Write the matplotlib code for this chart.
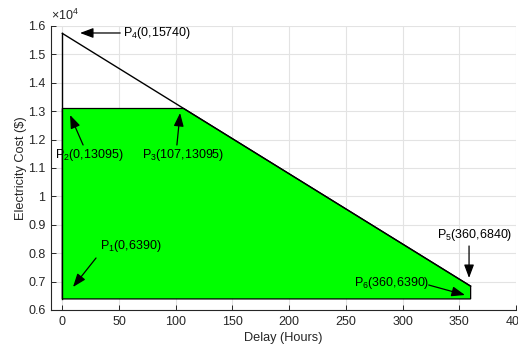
import matplotlib
matplotlib.use('Agg')
import matplotlib.pyplot as plt
from matplotlib.ticker import FuncFormatter

plt.rcParams['font.family'] = ['Liberation Sans', 'DejaVu Sans']
plt.rcParams['mathtext.fontset'] = 'custom'
plt.rcParams['mathtext.rm'] = 'Liberation Sans'
plt.rcParams['mathtext.it'] = 'Liberation Sans'

# corner points of the cost region (delay in hours, cost in $)
names = ['1', '2', '3', '4', '5', '6']
delay = [0, 0, 107, 0, 360, 360]
cost = [6390, 13095, 13095, 15740, 6840, 6390]

# annotation text position, arrow start and arrow tip, per point
text_xy = [(33, 8254), (-6.4, 11458), (70, 11458), (53.5, 15754), (330, 8641), (257, 6951)]
tail_xy = [(29.7, 7831), (18.3, 11810), (101, 11810), (51, 15754), (358.6, 8254), (323, 6880)]
head_xy = [(9.4, 6810), (6.8, 12866), (103.8, 12937), (15.6, 15754), (358.6, 7127), (355, 6528)]

GREEN = '#00ff00'
GRID = '#e3e3e3'
AX = '#262626'

fig = plt.figure(figsize=(5.18, 3.49), dpi=100)
ax = fig.add_axes([51 / 518, 39 / 349, 465 / 518, 284 / 349])

P = dict(zip(names, zip(delay, cost)))
order = ['1', '2', '3', '5', '6']
ax.fill([P[k][0] for k in order], [P[k][1] for k in order],
        facecolor=GREEN, edgecolor='black', linewidth=0.9, zorder=2)

# upper bound line and left edge
ax.plot([P['4'][0], P['5'][0]], [P['4'][1], P['5'][1]], color='black', linewidth=1.0, zorder=3)
ax.plot([P['1'][0], P['4'][0]], [P['1'][1], P['4'][1]], color='black', linewidth=1.0, zorder=3)

for k, txt, tail, head in zip(names, text_xy, tail_xy, head_xy):
    label = 'P$_{%s}$(%d,%d)' % (k, P[k][0], P[k][1])
    ax.annotate('', xy=head, xytext=tail,
                arrowprops=dict(arrowstyle='-|>,head_length=0.8,head_width=0.3',
                                color='black', linewidth=0.9, shrinkA=0, shrinkB=0),
                zorder=4)
    ax.text(txt[0], txt[1], label, fontsize=9, va='center', ha='left', zorder=5)

ax.set_xlim(-10, 400)
ax.set_ylim(6000, 16000)
ax.set_xticks(range(0, 401, 50))
ax.set_yticks(range(6000, 16001, 1000))

# y ticks shown in units of 1e4, exponent written above the axis
ax.yaxis.set_major_formatter(FuncFormatter(lambda v, p: '%g' % round(v / 1e4, 2)))
ax.text(0.0, 1.012, r'$\times10^{4}$', transform=ax.transAxes, fontsize=9,
        color=AX, ha='left', va='bottom')

ax.grid(True, color=GRID, linewidth=0.8)
ax.set_axisbelow(True)
for s in ['top', 'right']:
    ax.spines[s].set_visible(False)
for s in ['left', 'bottom']:
    ax.spines[s].set_color(AX)
    ax.spines[s].set_linewidth(0.8)
ax.tick_params(direction='in', length=3.5, width=0.7, colors=AX, labelsize=9, pad=4)

ax.set_xlabel('Delay (Hours)', fontsize=9.2, color=AX, labelpad=3)
ax.set_ylabel('Electricity Cost ($)', fontsize=9.2, color=AX, labelpad=1)

fig.savefig('out.png', dpi=100)
